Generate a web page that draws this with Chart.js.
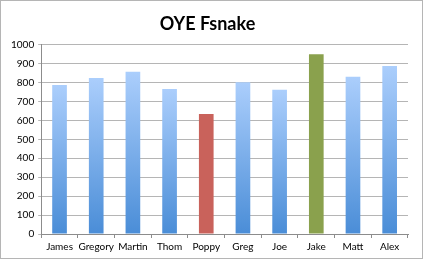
<!DOCTYPE html>
<html>
<head>
<meta charset="utf-8">
<script src="https://cdn.jsdelivr.net/npm/chart.js@4"></script>
<style>
  html, body { margin: 0; padding: 0; background: #fff; }
  #wrap { position: relative; width: 423px; height: 259px; box-sizing: border-box; border: 1px solid #b5b5b5; }
</style>
</head>
<body>
<div id="wrap"><canvas id="chart"></canvas></div>
<script>
const names = ["James", "Gregory", "Martin", "Thom", "Poppy", "Greg", "Joe", "Jake", "Matt", "Alex"];
const scores = [787, 823, 857, 766, 634, 801, 762, 949, 830, 887];
const highlights = { Poppy: "#c9625b", Jake: "#8aa14d" };

function barColor(context) {
  const chart = context.chart;
  const name = names[context.dataIndex];
  if (highlights[name]) return highlights[name];
  const yScale = chart.scales.y;
  if (!yScale) return "#7fb0ee";
  const top = yScale.getPixelForValue(scores[context.dataIndex]);
  const bottom = yScale.getPixelForValue(0);
  if (!isFinite(top) || !isFinite(bottom)) return "#7fb0ee";
  const gradient = chart.ctx.createLinearGradient(0, top, 0, bottom);
  gradient.addColorStop(0, "#abcefc");
  gradient.addColorStop(1, "#4a8dd7");
  return gradient;
}

const chartEl = document.getElementById("chart");
new Chart(chartEl, {
  type: "bar",
  data: {
    labels: names,
    datasets: [
      {
        data: scores,
        backgroundColor: barColor,
        borderWidth: 0,
        categoryPercentage: 1,
        barPercentage: 0.4,
      },
    ],
  },
  options: {
    responsive: true,
    maintainAspectRatio: false,
    animation: false,
    layout: {
      padding: { left: 6, right: 14, top: 6, bottom: 2 },
    },
    plugins: {
      legend: { display: false },
      tooltip: { enabled: false },
      title: {
        display: true,
        text: "OYE Fsnake",
        color: "#000",
        font: { family: "Lato", size: 18, weight: "bold" },
        padding: { top: 6, bottom: 10 },
      },
    },
    scales: {
      x: {
        grid: {
          display: true,
          drawOnChartArea: false,
          color: "#8c8c8c",
          tickLength: 4,
        },
        border: { color: "#8c8c8c" },
        ticks: {
          color: "#000",
          font: { family: "Lato", size: 10 },
          padding: 3,
          maxRotation: 0,
          autoSkip: false,
        },
      },
      y: {
        min: 0,
        max: 1000,
        grid: {
          color: "#b5b5b5",
          drawTicks: true,
          tickLength: 3,
        },
        border: { color: "#8c8c8c" },
        ticks: {
          stepSize: 100,
          color: "#000",
          font: { family: "Lato", size: 10 },
          padding: 4,
          callback: function (value) {
            return String(value);
          },
        },
      },
    },
  },
});
</script>
</body>
</html>
